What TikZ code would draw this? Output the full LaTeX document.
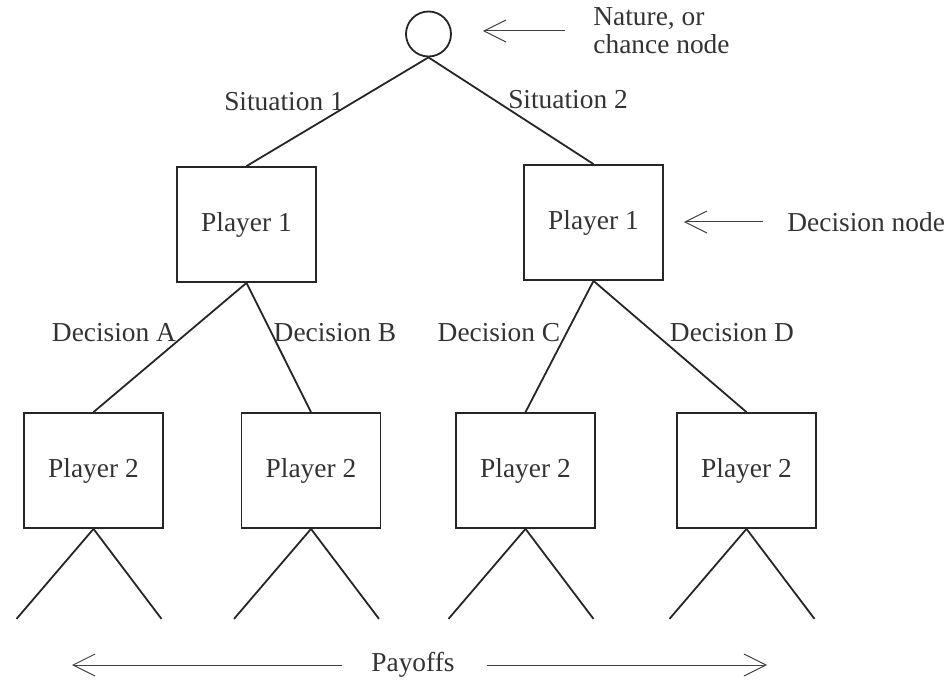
\documentclass[tikz,border=0pt]{standalone}
\usepackage{fontspec}
\setmainfont{Liberation Serif}
\usetikzlibrary{positioning,arrows.meta}

\begin{document}
\begin{tikzpicture}[
    x=0.5pt, y=-0.5pt,
    every node/.style={font=\fontsize{13.7}{14}\selectfont, text=black!80},
    player/.style={draw=black!85, line width=0.9pt, rectangle, minimum width=69.5pt, minimum height=57.5pt, inner sep=0pt},
    chance/.style={draw=black!85, line width=0.9pt, circle, minimum size=22.5pt, inner sep=0pt},
    branch/.style={draw=black!85, line width=0.9pt},
    pointer/.style={draw=black!75, line width=0.5pt, -{Straight Barb[length=11pt, width=11pt]}},
    lbl/.style={inner sep=0pt}
]
    \useasboundingbox (0,0) rectangle (949,684);

    % Nature and decision nodes
    \node[chance] (nature) at (428.5,34) {};
    \node[player] (p1l) at (246.5,224.5) {Player 1};
    \node[player] (p1r) at (593.5,222.5) {Player 1};
    \node[player] (p2a) at (93.5,470.5) {Player 2};
    \node[player] (p2b) at (311,470.5) {Player 2};
    \node[player] (p2c) at (525.5,470.5) {Player 2};
    \node[player] (p2d) at (746.5,470.5) {Player 2};

    % Branches
    \draw[branch] (nature.south) -- (p1l.north);
    \draw[branch] (nature.south) -- (p1r.north);
    \draw[branch] (p1l.south) -- (p2a.north);
    \draw[branch] (p1l.south) -- (p2b.north);
    \draw[branch] (p1r.south) -- (p2c.north);
    \draw[branch] (p1r.south) -- (p2d.north);

    % Payoff branches
    \foreach \b in {p2a,p2b,p2c,p2d} {
        \draw[branch] (\b.south) -- ++(-77,90) coordinate (\b-left);
        \draw[branch] (\b.south) -- ++(68,90) coordinate (\b-right);
    }

    % Branch labels
    \node[lbl] (sit1) at (284,102) {Situation 1};
    \node[lbl] (sit2) at (568,100) {Situation 2};
    \node[lbl] (deca) at (114,333) {Decision A};
    \node[lbl] (decb) at (335,333) {Decision B};
    \node[lbl] (decc) at (499,333) {Decision C};
    \node[lbl] (decd) at (732,333) {Decision D};

    % Callouts
    \node[lbl, anchor=west, align=left] (natlabel) at (593,31) {Nature, or\\chance node};
    \node[lbl, anchor=west] (declabel) at (787,222) {Decision node};
    \draw[pointer, shorten <=14pt, shorten >=15.5pt] (natlabel.west) -- (natlabel.west -| nature.east);
    \draw[pointer, shorten <=12pt, shorten >=10pt] (declabel.west) -- (declabel.west -| p1r.east);

    % Payoffs
    \node[lbl] (payoffs) at (413,665) {Payoffs};
    \coordinate (payl) at (72,665);
    \coordinate (payr) at (767,665);
    \draw[pointer, shorten <=14.5pt] (payoffs.west) -- (payl);
    \draw[pointer, shorten <=16pt] (payoffs.east) -- (payr);
\end{tikzpicture}
\end{document}
